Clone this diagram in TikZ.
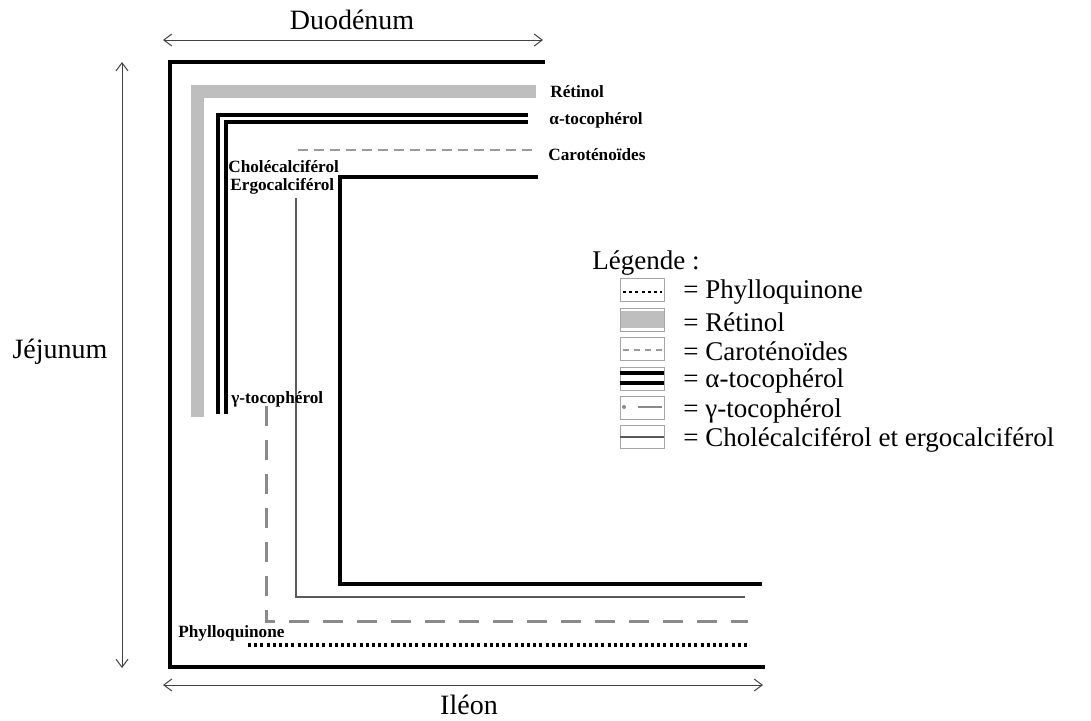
\documentclass[tikz,border=0pt]{standalone}
\usepackage{fontspec}
\setmainfont{Liberation Serif}
\usetikzlibrary{arrows.meta}

\definecolor{retinolgray}{HTML}{BEBEBE}
\definecolor{carogray}{HTML}{9A9A9A}
\definecolor{gammagray}{HTML}{8A8A8A}
\definecolor{calcigray}{HTML}{5A5A5A}

\begin{document}
\begin{tikzpicture}[x=0.5pt,y=-0.5pt,line join=miter,
    bigtext/.style={font=\fontsize{14}{16}\selectfont,inner sep=0pt},
    smalltext/.style={font=\fontsize{8.6}{10}\selectfont\bfseries,inner sep=0pt,anchor=west},
    legtext/.style={font=\fontsize{13.5}{15}\selectfont,inner sep=0pt,anchor=west},
    span/.style={{Straight Barb[length=4pt,width=6pt]}-{Straight Barb[length=4pt,width=6pt]},line width=0.5pt,black!75},
    wall/.style={line width=2.2pt},
    alpha line/.style={line width=1.8pt},
    retinol line/.style={line width=6.5pt,retinolgray},
    caro line/.style={line width=0.7pt,carogray,dash pattern=on 5pt off 3pt},
    gamma line/.style={line width=1.5pt,gammagray,dash pattern=on 10pt off 7pt},
    calci line/.style={line width=0.7pt,calcigray},
    phyllo line/.style={line width=1.6pt,dash pattern=on 1.5pt off 1.6pt},
    legbox/.style={draw=black!35,line width=0.4pt}]
\useasboundingbox (0,0) rectangle (1091,720);

% Segment arrows
\coordinate (duoL) at (163,40);
\coordinate (duoR) at (543,40);
\draw[span] (duoL) -- (duoR);
\node[bigtext] (duo) at (352,20) {Duodénum};

\coordinate (jejT) at (122,62);
\coordinate (jejB) at (122,668);
\draw[span] (jejT) -- (jejB);
\node[bigtext] (jej) at (60,352) {Jéjunum};

\coordinate (ileL) at (163,685);
\coordinate (ileR) at (763,685);
\draw[span] (ileL) -- (ileR);
\node[bigtext] (ile) at (469,705) {Iléon};

% Intestinal wall
\draw[wall] (545,62) -- (170,62) -- (170,667) -- (765,667);

% Retinol
\draw[retinol line] (536,91) -- (197,91) -- (197,417);
\node[smalltext] (ret) at (550,92) {Rétinol};

% alpha-tocopherol (double line)
\draw[alpha line] (528,115) -- (218,115) -- (218,414);
\draw[alpha line] (528,122) -- (226,122) -- (226,414);
\node[smalltext] (atoc) at (549,120) {α-tocophérol};

% Carotenoids
\draw[caro line] (298,150) -- (535,150);
\node[smalltext] (caro) at (548,155) {Caroténoïdes};

% Cholecalciferol / ergocalciferol
\node[smalltext] (chol) at (228,167) {Cholécalciférol};
\node[smalltext] (ergo) at (230,186) {Ergocalciférol};
\draw[calci line] (296,198) -- (296,597) -- (745,597);

% Inner thick line
\draw[wall,line width=2pt] (538,177) -- (340,177) -- (340,584) -- (762,584);

% gamma-tocopherol
\node[smalltext] (gtoc) at (231,399) {γ-tocophérol};
\draw[gamma line] (266,406) -- (266,621) -- (748,621);

% Phylloquinone
\node[smalltext] (phyl) at (178,633) {Phylloquinone};
\draw[phyllo line] (248,645) -- (748,645);

% Legend
\node[legtext] (leg) at (592,263) {Légende :};

\draw[legbox] (620,278.5) rectangle (664,301.5);
\draw[phyllo line,line width=1.4pt] (623,292) -- (662,292);
\node[legtext] (lphyl) at (683,292) {= Phylloquinone};

\fill[retinolgray] (620,311) rectangle (664,328);
\draw[legbox] (620,308) rectangle (664,331);
\node[legtext] (lret) at (683,322) {= Rétinol};

\draw[legbox] (620,337.5) rectangle (664,360.5);
\draw[caro line,dash pattern=on 3pt off 2.5pt] (623,350) -- (662,350);
\node[legtext] (lcaro) at (683,351) {= Caroténoïdes};

\draw[legbox] (620,367) rectangle (664,390);
\draw[alpha line,line width=2pt] (620,373) -- (664,373);
\draw[alpha line,line width=2pt] (620,382.5) -- (664,382.5);
\node[legtext] (latoc) at (683,381) {= α-tocophérol};

\draw[legbox] (620,396) rectangle (664,419);
\fill[gammagray] (624,407) circle (1pt);
\draw[line width=1.1pt,gammagray] (638,407) -- (662,407);
\node[legtext] (lgtoc) at (683,411) {= γ-tocophérol};

\draw[legbox] (620,425.5) rectangle (664,448.5);
\draw[calci line] (620,437) -- (664,437);
\node[legtext] (lcalc) at (683,440) {= Cholécalciférol et ergocalciférol};
\end{tikzpicture}
\end{document}
